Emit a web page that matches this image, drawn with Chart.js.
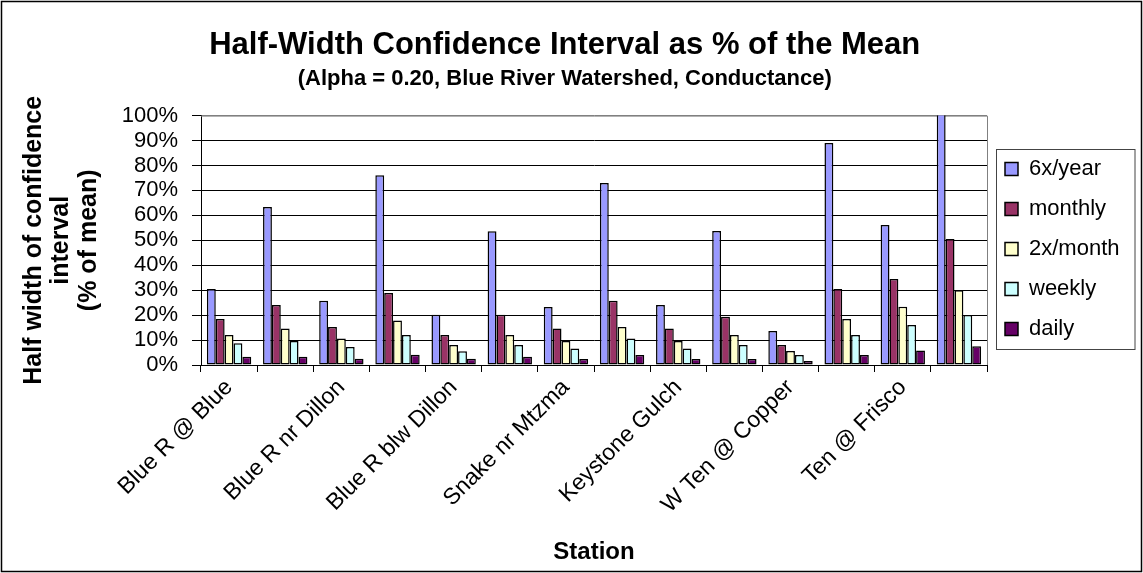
<!DOCTYPE html>
<html>
<head>
<meta charset="utf-8">
<title>Half-Width Confidence Interval as % of the Mean</title>
<script src="https://cdn.jsdelivr.net/npm/chart.js@4.4.1/dist/chart.umd.min.js"></script>
<style>
  html, body { margin: 0; padding: 0; background: #fff; }
  #chart { display: block; }
</style>
</head>
<body>
<canvas id="chart" width="1143" height="573"></canvas>
<script>
// stations (only every other name is printed on the axis)
const stations = ['Blue R @ Blue', '', 'Blue R nr Dillon', '', 'Blue R blw Dillon', '', 'Snake nr Mtzma', '',
                  'Keystone Gulch', '', 'W Ten @ Copper', '', 'Ten @ Frisco', ''];

// half-width of CI, % of mean
const sixPerYear  = [30.5, 63.4, 25.8, 76.1, 20.1, 53.6, 23.3, 73.0, 24.1, 53.7, 13.6, 89.0, 56.1, 104];
const monthly     = [18.4, 24.1, 15.2, 28.9, 12.0, 20.1, 14.6, 25.8, 14.6, 19.3, 8.0, 30.5, 34.5, 50.5];
const twoPerMonth = [12.0, 14.6, 10.6, 17.8, 8.0, 12.0, 9.6, 15.2, 9.6, 12.0, 5.6, 18.4, 23.4, 30.0];
const weekly      = [8.7, 9.6, 7.2, 12.0, 5.5, 8.0, 6.6, 10.6, 6.6, 8.0, 4.0, 12.0, 16.0, 20.0];
const daily       = [3.3, 3.3, 2.5, 4.1, 2.5, 3.3, 2.4, 4.0, 2.4, 2.4, 1.6, 4.0, 5.8, 7.5];

const seriesNames = ['6x/year', 'monthly', '2x/month', 'weekly', 'daily'];
const yTicks = [0, 10, 20, 30, 40, 50, 60, 70, 80, 90, 100];

const FONT = "'Liberation Sans', Arial, sans-serif";
const colors = ['#9999FF', '#993366', '#FFFFCC', '#CCFFFF', '#660066'];

// plot area edges in the picture
const PLOT_LEFT = 201, PLOT_RIGHT = 987, PLOT_BOTTOM = 365;

// legend width so the plot ends at PLOT_RIGHT
const legendFontSize = 22, legendBox = 13, legendPad = 18;
const mctx = document.createElement('canvas').getContext('2d');
mctx.font = legendFontSize + 'px ' + FONT;
const maxText = Math.max(...seriesNames.map(s => mctx.measureText(s).width));
const legendWidth = legendPad + legendBox + legendFontSize / 2 + maxText + 10;
const rightPad = 1143 - PLOT_RIGHT - legendWidth;

const pageFrame = {
    id: 'pageFrame',
    beforeDraw(chart) {
        const c = chart.ctx;
        c.save();
        c.fillStyle = '#fff';
        c.fillRect(0, 0, chart.width, chart.height);
        c.restore();
    },
    afterDraw(chart) {
        const c = chart.ctx;
        c.save();
        c.strokeStyle = '#000';
        c.lineWidth = 1.5;
        c.strokeRect(1.5, 1.5, chart.width - 3, chart.height - 3);
        // box round legend
        const hb = chart.legend.legendHitBoxes;
        if (hb && hb.length) {
            const top = hb[0].top - 9;
            const bottom = hb[hb.length - 1].top + hb[hb.length - 1].height + 9;
            const left = chart.legend.left + 9.5;
            c.strokeStyle = '#444';
            c.lineWidth = 1;
            c.strokeRect(left, Math.round(top) + 0.5, chart.width - 8 - left, Math.round(bottom - top));
        }
        c.restore();
    }
};

const plotFrame = {
    id: 'plotFrame',
    beforeDatasetsDraw(chart) {
        const a = chart.chartArea;
        const c = chart.ctx;
        c.save();
        c.strokeStyle = '#808080';
        c.lineWidth = 1;
        c.beginPath();
        c.moveTo(a.left, a.top + 0.5);
        c.lineTo(a.right + 0.5, a.top + 0.5);
        c.lineTo(a.right + 0.5, a.bottom);
        c.stroke();
        c.restore();
    }
};

const seriesData = [sixPerYear, monthly, twoPerMonth, weekly, daily];

new Chart(document.getElementById('chart'), {
    type: 'bar',
    data: {
        labels: stations,
        datasets: seriesNames.map((name, i) => ({
            label: name,
            data: seriesData[i],
            backgroundColor: colors[i],
            borderColor: '#000',
            borderWidth: 1.5,
            borderSkipped: false,
            barPercentage: 1.0,
            categoryPercentage: 0.79
        }))
    },
    options: {
        responsive: false,
        animation: false,
        layout: { padding: { left: 0, right: rightPad, top: 0, bottom: 0 } },
        plugins: {
            title: {
                display: true,
                text: 'Half-Width Confidence Interval as % of the Mean',
                color: '#000',
                font: { family: FONT, size: 31, weight: 'bold' },
                padding: { top: 27, bottom: 0 }
            },
            subtitle: {
                display: true,
                text: '(Alpha = 0.20, Blue River Watershed, Conductance)',
                color: '#000',
                font: { family: FONT, size: 22, weight: 'bold' },
                padding: { top: 2, bottom: 23 }
            },
            legend: {
                position: 'right',
                align: 'center',
                fullSize: false,
                title: { display: true, text: '', padding: 8, font: { size: 1 } },
                labels: {
                    color: '#000',
                    font: { family: FONT, size: legendFontSize },
                    boxWidth: legendBox,
                    boxHeight: legendBox,
                    padding: legendPad
                }
            },
            tooltip: { enabled: false }
        },
        scales: {
            x: {
                grid: {
                    display: true,
                    drawOnChartArea: false,
                    drawTicks: true,
                    tickLength: 7,
                    color: '#000',
                    offset: true
                },
                border: { color: '#000', width: 1 },
                ticks: {
                    autoSkip: false,
                    minRotation: 45,
                    maxRotation: 45,
                    padding: 2,
                    color: '#000',
                    font: { family: FONT, size: 23 },
                    callback: (v, i) => stations[i]
                },
                title: {
                    display: true,
                    text: 'Station',
                    color: '#000',
                    font: { family: FONT, size: 24, weight: 'bold' },
                    padding: { top: 0, bottom: 6 }
                },
                afterFit(scale) { scale.height = 573 - PLOT_BOTTOM; }
            },
            y: {
                min: 0,
                max: 100,
                afterBuildTicks(scale) { scale.ticks = yTicks.map(v => ({ value: v })); },
                grid: {
                    color: c => (c.tick && c.tick.value === 100 ? '#808080' : '#000'),
                    tickColor: '#000',
                    tickLength: 9,
                    drawTicks: true
                },
                border: { color: '#000', width: 1 },
                ticks: {
                    autoSkip: false,
                    padding: 14,
                    color: '#000',
                    font: { family: FONT, size: 22, lineHeight: 1.0 },
                    callback: v => v + '%'
                },
                title: {
                    display: true,
                    text: ['Half width of confidence', 'interval', '(% of mean)'],
                    color: '#000',
                    font: { family: FONT, size: 25, weight: 'bold', lineHeight: 1.1 },
                    padding: { top: 20, bottom: 0 }
                },
                afterFit(scale) { scale.width = PLOT_LEFT; }
            }
        }
    },
    plugins: [pageFrame, plotFrame]
});
</script>
</body>
</html>
